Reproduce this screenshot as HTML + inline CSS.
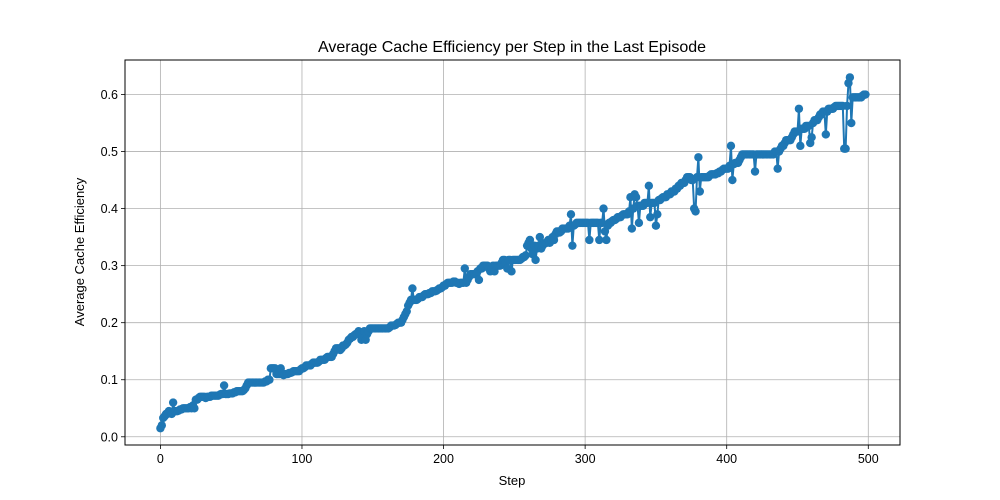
<!DOCTYPE html>
<html><head><meta charset="utf-8"><style>
html,body{margin:0;padding:0;background:#fff;}
svg{display:block;font-family:"Liberation Sans",sans-serif;}
</style></head><body>
<svg id="chart" width="1000" height="500">
<rect width="1000" height="500" fill="#fff"/>
<text x="512" y="52" text-anchor="middle" font-size="16" fill="#000">Average Cache Efficiency per Step in the Last Episode</text>
<g id="grid"></g>
<g id="ticks"></g>
<g id="series"></g>
<rect x="125" y="60" width="775" height="385" fill="none" stroke="#000" stroke-width="1"/>
<text x="512" y="485" text-anchor="middle" font-size="13">Step</text>
<text transform="translate(84,252) rotate(-90)" text-anchor="middle" font-size="13">Average Cache Efficiency</text>
</svg>
<script>
const xTicks=[0,100,200,300,400,500];
const yTicks=[0.0,0.1,0.2,0.3,0.4,0.5,0.6];
const yTickLabels=["0.0","0.1","0.2","0.3","0.4","0.5","0.6"];
const efficiency=[
.015,.02,.033,.036,.04,.04,.045,.042,.04,.06,
.045,.045,.045,.046,.048,.048,.05,.05,.05,.05,
.05,.052,.05,.055,.05,.065,.065,.068,.07,.07,
.07,.07,.068,.07,.07,.07,.072,.072,.072,.072,
.072,.072,.074,.075,.075,.09,.075,.075,.075,.076,
.076,.076,.078,.078,.08,.08,.08,.08,.08,.082,
.085,.09,.095,.095,.095,.095,.095,.095,.095,.095,
.095,.095,.095,.095,.097,.097,.1,.1,.12,.12,
.12,.12,.11,.11,.11,.12,.11,.108,.11,.11,
.11,.112,.112,.113,.115,.115,.115,.115,.115,.118,
.12,.12,.122,.125,.125,.125,.125,.128,.13,.13,
.13,.13,.132,.135,.135,.135,.135,.138,.14,.14,
.14,.14,.145,.15,.155,.155,.155,.152,.155,.16,
.16,.162,.165,.17,.172,.175,.175,.178,.18,.18,
.185,.18,.17,.175,.185,.17,.18,.185,.19,.19,
.19,.19,.19,.19,.19,.19,.19,.19,.19,.19,
.19,.19,.192,.195,.195,.195,.196,.198,.2,.2,
.2,.205,.21,.215,.22,.23,.235,.24,.26,.24,
.24,.24,.242,.245,.245,.245,.248,.25,.25,.25,
.252,.252,.255,.255,.255,.256,.258,.26,.26,.262,
.265,.265,.268,.27,.27,.27,.27,.272,.272,.27,
.27,.268,.27,.27,.27,.295,.27,.275,.28,.285,
.285,.285,.285,.285,.29,.275,.295,.295,.3,.3,
.3,.3,.295,.29,.295,.3,.29,.3,.3,.3,
.3,.305,.31,.31,.305,.295,.31,.31,.29,.31,
.31,.31,.31,.31,.31,.312,.315,.315,.318,.335,
.34,.345,.33,.32,.335,.31,.33,.335,.35,.33,
.335,.338,.34,.34,.345,.34,.345,.35,.345,.355,
.36,.36,.358,.36,.365,.365,.365,.365,.365,.37,
.39,.335,.37,.372,.375,.375,.375,.375,.375,.375,
.375,.375,.375,.345,.375,.375,.375,.375,.375,.375,
.345,.375,.375,.4,.36,.345,.37,.375,.375,.378,
.38,.38,.382,.385,.385,.385,.388,.39,.39,.39,
.39,.395,.42,.365,.4,.425,.42,.405,.375,.405,
.405,.405,.41,.41,.41,.44,.385,.41,.41,.41,
.37,.39,.415,.415,.418,.42,.42,.42,.425,.425,
.425,.43,.43,.43,.435,.435,.44,.44,.445,.445,
.445,.45,.455,.455,.455,.45,.45,.4,.395,.455,
.49,.43,.455,.455,.455,.455,.455,.455,.458,.46,
.46,.46,.46,.462,.462,.465,.465,.468,.47,.47,
.47,.47,.475,.51,.45,.478,.48,.48,.48,.485,
.49,.495,.495,.495,.495,.495,.495,.495,.495,.495,
.465,.495,.495,.495,.495,.495,.495,.495,.495,.495,
.495,.495,.495,.495,.5,.5,.47,.5,.505,.51,
.51,.515,.52,.52,.52,.52,.525,.53,.535,.535,
.535,.575,.51,.54,.54,.54,.545,.545,.545,.515,
.525,.55,.555,.555,.555,.56,.565,.565,.57,.57,
.53,.57,.575,.575,.575,.575,.578,.58,.58,.58,
.58,.58,.58,.505,.505,.58,.62,.63,.55,.595,
.595,.595,.595,.595,.595,.595,.598,.6,.6
];
const NS="http://www.w3.org/2000/svg";
const X0=125,X1=900,Y0=445,Y1=60;
const xMin=-25.0,xMax=522.4,yMin=-0.0144,yMax=0.6605;
function sx(v){return X0+(v-xMin)/(xMax-xMin)*(X1-X0);}
function sy(v){return Y0-(v-yMin)/(yMax-yMin)*(Y0-Y1);}
function mk(tag,attrs,parent){const e=document.createElementNS(NS,tag);for(const k in attrs)e.setAttribute(k,attrs[k]);parent.appendChild(e);return e;}
const grid=document.getElementById('grid'),ticks=document.getElementById('ticks'),series=document.getElementById('series');
xTicks.forEach(t=>{
  const x=sx(t);
  const g=mk('line',{x1:x,x2:x,y1:Y1,y2:Y0,stroke:'#b0b0b0','stroke-width':0.8},grid);
  
  
  mk('line',{x1:x,x2:x,y1:Y0,y2:Y0+4,stroke:'#000','stroke-width':0.8},ticks);
  const l=mk('text',{x:x,y:Y0+18,'text-anchor':'middle','font-size':12.5},ticks);
  l.textContent=String(t);
  
  
});
yTicks.forEach((t,i)=>{
  const y=sy(t);
  const g=mk('line',{x1:X0,x2:X1,y1:y,y2:y,stroke:'#b0b0b0','stroke-width':0.8},grid);
  
  
  mk('line',{x1:X0-4,x2:X0,y1:y,y2:y,stroke:'#000','stroke-width':0.8},ticks);
  const l=mk('text',{x:X0-7,y:y+4.5,'text-anchor':'end','font-size':12.5},ticks);
  l.textContent=yTickLabels[i];
  
  
});
const d=efficiency.map((v,i)=>(i?'L':'M')+sx(i).toFixed(2)+' '+sy(v).toFixed(2)).join('');
const path=mk('path',{d:d,fill:'none',stroke:'#1f77b4','stroke-width':2},series);


efficiency.forEach((v,i)=>{
  const c=mk('circle',{cx:sx(i),cy:sy(v),r:4.2,fill:'#1f77b4'},series);
  
  
});
</script>
</body></html>
